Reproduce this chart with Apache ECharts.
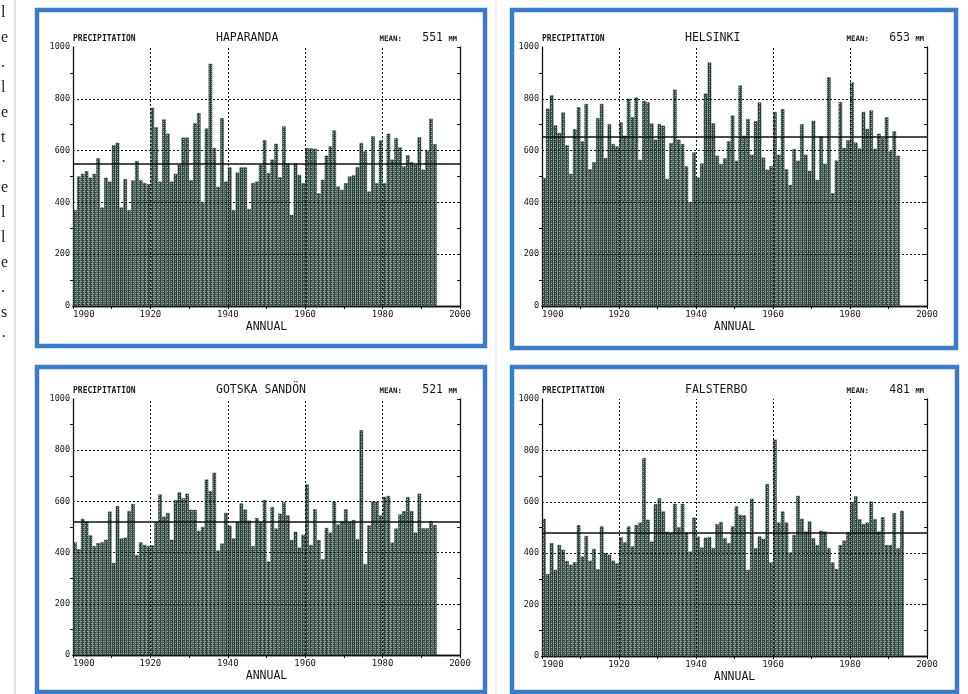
<!DOCTYPE html>
<html><head><meta charset="utf-8">
<script src="https://cdn.jsdelivr.net/npm/echarts@6/dist/echarts.min.js"></script>
<style>html,body{margin:0;padding:0;background:#fff}#c{width:968px;height:694px}</style>
</head><body><div id="c"></div>
<script>
// ---- data (annual precipitation, mm), first value = startYear ----
const startYear = 1900;
const haparanda = [370,500,510,520,495,510,570,380,495,480,620,630,380,490,370,485,560,485,475,470,
  765,690,480,720,665,480,510,545,650,650,485,705,745,400,685,935,610,460,725,480,
  535,370,515,535,535,375,475,480,545,640,513,565,626,497,693,551,352,551,506,474,
  609,609,607,435,487,580,616,678,461,448,474,500,504,536,629,597,442,655,474,639,
  474,665,565,648,612,539,582,555,545,651,526,600,723,625];
const helsinki = [494,762,813,697,668,747,620,510,683,767,635,780,528,555,725,780,571,702,625,616,
  709,657,800,729,805,564,792,786,704,642,702,696,491,629,835,642,625,539,401,593,
  496,550,820,940,705,580,548,570,636,735,561,851,657,722,584,713,786,573,526,540,
  749,584,760,528,468,606,561,702,584,522,715,487,655,549,883,436,562,787,610,640,
  863,631,608,749,684,755,607,665,648,728,597,674,580];
const gotskaSandon = [440,413,532,520,467,425,437,440,450,560,360,582,455,458,562,590,390,440,430,425,
  428,520,627,540,555,450,605,635,612,630,567,567,485,500,685,640,712,408,435,555,
  505,455,520,592,568,525,425,535,520,605,365,578,494,552,597,545,449,481,419,470,
  666,430,569,449,374,496,478,599,510,523,569,519,527,452,878,355,506,599,599,545,
  618,621,439,494,549,562,617,562,478,630,495,495,523,508];
const falsterbo = [534,319,439,335,432,413,370,355,365,509,387,467,371,417,338,504,400,394,371,360,
  462,442,504,426,510,519,770,530,445,591,614,562,483,478,592,501,592,480,406,538,
  465,422,460,463,420,513,521,458,439,504,582,549,547,335,612,419,465,456,669,364,
  842,519,562,519,403,471,623,534,484,523,458,432,487,484,419,364,339,432,449,482,
  599,621,532,513,519,601,532,484,540,432,432,556,419,565];
const stationNames = ['HAPARANDA','HELSINKI','GOTSKA SANDÖN','FALSTERBO'];
const stationMeans = [551,653,521,481];
const stationValues = [haparanda, helsinki, gotskaSandon, falsterbo];
const gridYears = [1920,1940,1960,1980];
const gridLevels = [200,400,600,800];

// ---- layout (pixels) ----
const panels = [
  {left:73, top:47, width:387, height:259, box:[37,10,448,336]},
  {left:542, top:47, width:385, height:259, box:[512,10,444,338]},
  {left:73, top:399, width:387, height:256, box:[37,367,448,325]},
  {left:542, top:399, width:385, height:257, box:[512,367,445,325]}
];
const FONT = 'DejaVu Sans Mono';
const INK = '#161616';

function makePattern(){
  const c = document.createElement('canvas'); c.width = 4; c.height = 4;
  const g = c.getContext('2d');
  g.fillStyle = '#2c463b'; g.fillRect(0,0,4,4);
  g.fillStyle = '#b7c7be';
  [[1,1],[3,3]].forEach(p => g.fillRect(p[0],p[1],1,1));
  g.fillStyle = '#6f857a';
  [[3,1],[1,3]].forEach(p => g.fillRect(p[0],p[1],1,1));
  return c;
}
const pattern = {image: makePattern(), repeat: 'repeat'};

const chart = echarts.init(document.getElementById('c'), null, {renderer:'canvas'});
const grid = [], xAxis = [], yAxis = [], series = [], graphic = [];
const plain = v => String(v);

panels.forEach((p, i) => {
  grid.push({left:p.left, top:p.top, width:p.width, height:p.height, containLabel:false});
  const axLine = {show:true, lineStyle:{color:'#111', width:1.3}};
  xAxis.push({gridIndex:i, type:'value', min:1900, max:2000, interval:20, position:'bottom',
    axisLine:axLine, axisTick:{show:false}, splitLine:{show:false},
    axisLabel:{fontFamily:FONT, fontSize:9, color:INK, margin:4, alignMinLabel:'left', formatter:plain}});
  xAxis.push({gridIndex:i, type:'value', min:1900, max:2000, interval:10, position:'top',
    axisLine:axLine, axisTick:{show:true, inside:true, length:3, lineStyle:{color:'#111'}},
    axisLabel:{show:false}, splitLine:{show:false}});
  yAxis.push({gridIndex:i, type:'value', min:0, max:1000, interval:200, position:'left',
    axisLine:axLine, axisTick:{show:false},
    minorTick:{show:true, splitNumber:2, length:3, lineStyle:{color:'#111'}},
    splitLine:{show:false},
    axisLabel:{fontFamily:FONT, fontSize:8.5, color:INK, margin:3, formatter:plain}});
  yAxis.push({gridIndex:i, type:'value', min:0, max:1000, interval:100, position:'right',
    axisLine:axLine, axisTick:{show:true, inside:true, length:3, lineStyle:{color:'#111'}},
    axisLabel:{show:false}, splitLine:{show:false}});

  const vals = stationValues[i];
  const markData = [];
  gridLevels.forEach(v => markData.push({yAxis:v, lineStyle:{type:[2,2], color:'#111', width:1}}));
  gridYears.forEach(v => markData.push({xAxis:v, lineStyle:{type:[2,2], color:'#111', width:1}}));
  markData.push({yAxis:stationMeans[i], lineStyle:{type:'solid', color:'#111', width:1.5}});
  series.push({
    type:'bar', xAxisIndex:2*i, yAxisIndex:2*i,
    data: vals.map((v, k) => [startYear + k + 0.5, v]),
    barWidth:3.5,
    itemStyle:{color:pattern, borderColor:'#1b2b24', borderWidth:0.4},
    animation:false, silent:true,
    markLine:{silent:true, symbol:['none','none'], label:{show:false}, animation:false, data:markData}
  });

  // border
  graphic.push({type:'rect', shape:{x:p.box[0], y:p.box[1], width:p.box[2], height:p.box[3]},
    style:{fill:null, stroke:'#3b7cc6', lineWidth:4.5}, silent:true});
  const right = p.left + p.width;
  const hy = p.top - 8;
  graphic.push({type:'text', x:p.left, y:hy, style:{text:'PRECIPITATION', font:'bold 8px '+FONT, fill:INK, textAlign:'left', textVerticalAlign:'middle'}});
  graphic.push({type:'text', x:p.left+143, y:hy-1, style:{text:stationNames[i], font:'11.5px '+FONT, fill:INK, textAlign:'left', textVerticalAlign:'middle'}});
  graphic.push({type:'text', x:right-58, y:hy, style:{text:'MEAN:', font:'bold 7.5px '+FONT, fill:INK, textAlign:'right', textVerticalAlign:'middle'}});
  graphic.push({type:'text', x:right-17, y:hy-1, style:{text:String(stationMeans[i]), font:'11.5px '+FONT, fill:INK, textAlign:'right', textVerticalAlign:'middle'}});
  graphic.push({type:'text', x:right-3, y:hy, style:{text:'MM', font:'bold 7px '+FONT, fill:INK, textAlign:'right', textVerticalAlign:'middle'}});
  graphic.push({type:'text', x:p.left + p.width/2, y:p.top + p.height + 21, style:{text:'ANNUAL', font:'11.5px '+FONT, fill:INK, textAlign:'center', textVerticalAlign:'middle'}});
});

// page fringe: book text cut at left edge and gutter lines
const fringe = ['l','e','.','l','e','t','·','e','l','l','e','.','s','·'];
fringe.forEach((t, k) => graphic.push({type:'text', x:1, y:13 + k*25, style:{text:t, font:'16px Liberation Serif', fill:'#222', textAlign:'left', textVerticalAlign:'middle'}}));
graphic.push({type:'line', shape:{x1:15, y1:0, x2:15, y2:694}, style:{stroke:'#c8c8c8', lineWidth:1}});
graphic.push({type:'line', shape:{x1:496, y1:0, x2:496, y2:694}, style:{stroke:'#e2e2e2', lineWidth:1}});

chart.setOption({animation:false, backgroundColor:'#fff', grid, xAxis, yAxis, series, graphic});
</script></body></html>
